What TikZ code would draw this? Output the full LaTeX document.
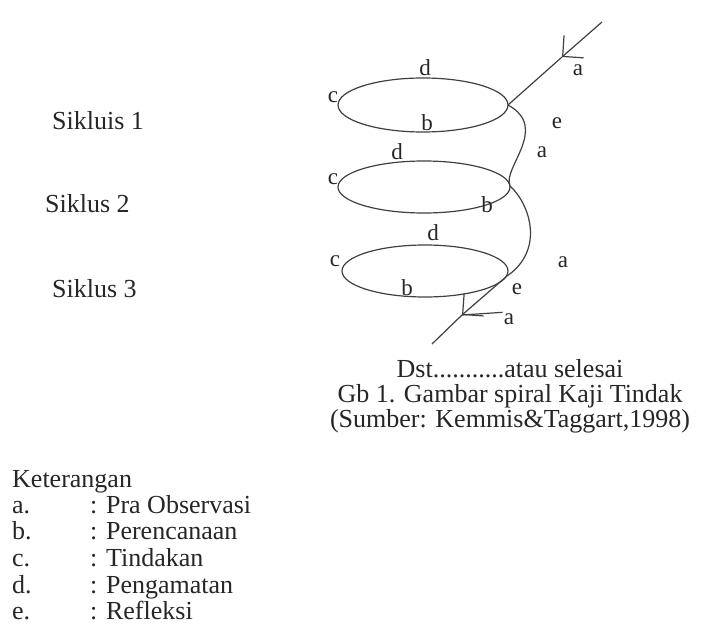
\documentclass[tikz,border=0pt]{standalone}
\usepackage{fontspec}
\setmainfont{Liberation Serif}
\usetikzlibrary{arrows.meta}

\begin{document}
\begin{tikzpicture}[x=1pt, y=-1pt,
  spiral/.style={draw=black!75, line width=1.2pt},
  barb/.style={-{Straight Barb[angle=90:21pt, line width=1.2pt]}},
  loopmark/.style={font=\fontsize{23}{24}\selectfont, text=black!85, inner sep=1pt},
  siklus/.style={font=\fontsize{26}{28}\selectfont, text=black!85, anchor=base west, inner sep=0pt},
  caption/.style={font=\fontsize{26}{28}\selectfont, text=black!85, anchor=base, inner sep=0pt},
  legend/.style={font=\fontsize{26}{28}\selectfont, text=black!85, anchor=base west, inner sep=0pt}
]
  \useasboundingbox (0,0) rectangle (706,628);

  \coordinate (in) at (602,22);
  \coordinate (tipa) at (562,57);
  \coordinate (j1) at (508,105);
  \coordinate (j2) at (510,186);
  \coordinate (j3) at (507,276);
  \coordinate (tipb) at (462,315);
  \coordinate (out) at (432,344);

  \draw[spiral] (423,105) ellipse [x radius=85pt, y radius=27pt];
  \draw[spiral] (424,187) ellipse [x radius=86pt, y radius=26pt];
  \draw[spiral] (425,271) ellipse [x radius=83pt, y radius=26pt];

  \draw[spiral, barb] (in) -- (tipa);
  \draw[spiral] (tipa) -- (j1);
  \draw[spiral] (j1) .. controls (550,128) and (502,168) .. (j2);
  \draw[spiral] (j2) .. controls (530,204) and (545,250) .. (j3);
  \draw[spiral, barb] (j3) -- (tipb);
  \draw[spiral] (tipb) -- (out);

  \node[loopmark] (d1) at (425,68) {d};
  \node[loopmark] (c1) at (333,97) {c};
  \node[loopmark] (b1) at (427,123) {b};
  \node[loopmark] (a0) at (578,70) {a};
  \node[loopmark] (e1) at (557,123) {e};
  \node[loopmark] (a1) at (542,152) {a};
  \node[loopmark] (d2) at (397,152) {d};
  \node[loopmark] (c2) at (333,179) {c};
  \node[loopmark] (b2) at (487,205) {b};
  \node[loopmark] (d3) at (433,233) {d};
  \node[loopmark] (c3) at (335,261) {c};
  \node[loopmark] (a2) at (563,262) {a};
  \node[loopmark] (b3) at (407,288) {b};
  \node[loopmark] (e2) at (517,289) {e};
  \node[loopmark] (a3) at (509,319) {a};
  \draw[spiral] (a3.north west) -- (tipb);

  \node[siklus] (s1) at (52,130) {Sikluis 1};
  \node[siklus] (s2) at (45,213) {Siklus 2};
  \node[siklus] (s3) at (52,297) {Siklus 3};

  \node[caption] (dst) at (510,377) {Dst...........atau selesai};
  \node[caption] (gb) at (510,402) {Gb 1. Gambar spiral Kaji Tindak};
  \node[caption] (src) at (510,427) {(Sumber: Kemmis\&Taggart,1998)};

  \node[legend] (ket) at (12,487) {Keterangan};
  \node[legend] (ka) at (12,513) {a.};
  \node[legend] (kb) at (12,539) {b.};
  \node[legend] (kc) at (12,566) {c.};
  \node[legend] (kd) at (12,593) {d.};
  \node[legend] (ke) at (12,619) {e.};
  \node[legend] (ta) at (90,513) {: Pra Observasi};
  \node[legend] (tb) at (90,539) {: Perencanaan};
  \node[legend] (tc) at (90,566) {: Tindakan};
  \node[legend] (td) at (90,593) {: Pengamatan};
  \node[legend] (te) at (90,619) {: Refleksi};
\end{tikzpicture}
\end{document}
